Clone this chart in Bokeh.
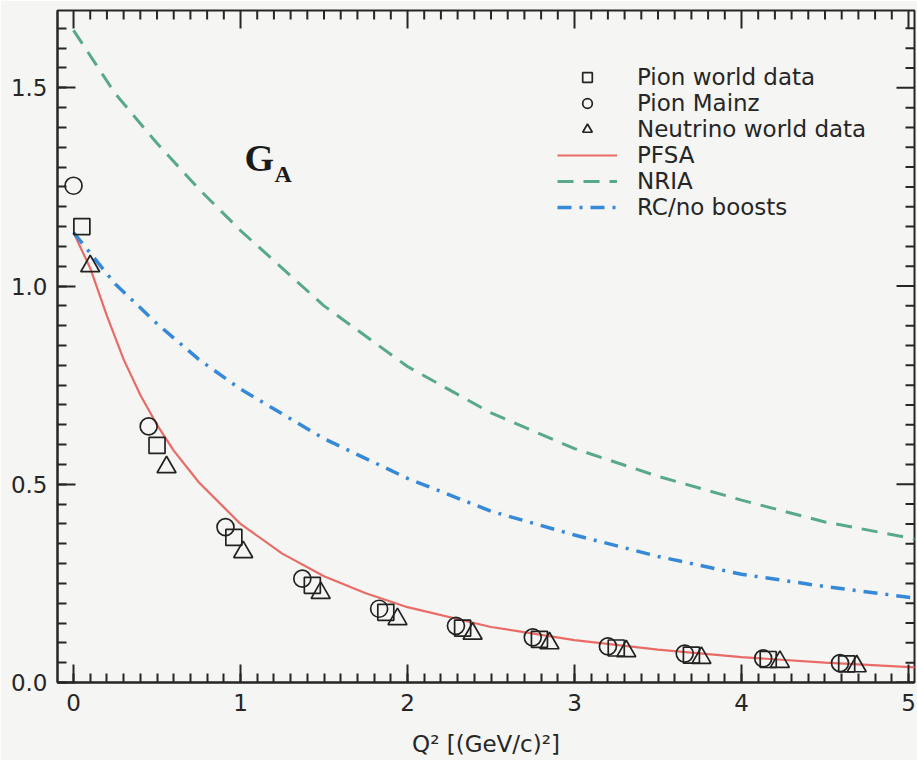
import numpy as np
from bokeh.plotting import figure
from bokeh.models import (FixedTicker, Legend, LegendItem, Label,
                          Range1d, PrintfTickFormatter)
from bokeh.embed import file_html
from bokeh.resources import INLINE

# ---------------- data ----------------
x_ticks = [0, 1, 2, 3, 4, 5]
y_ticks = [0.0, 0.5, 1.0, 1.5]

pion_world_q2 = [0.05, 0.50, 0.96, 1.43, 1.87, 2.33, 2.79, 3.25, 3.70, 4.16, 4.63]
pion_world_ga = [1.150, 0.598, 0.366, 0.245, 0.177, 0.137, 0.109, 0.087, 0.069, 0.058, 0.047]

pion_mainz_q2 = [0.00, 0.45, 0.91, 1.37, 1.83, 2.29, 2.75, 3.20, 3.66, 4.13, 4.59]
pion_mainz_ga = [1.253, 0.646, 0.392, 0.262, 0.186, 0.143, 0.114, 0.091, 0.073, 0.061, 0.049]

neutrino_q2 = [0.10, 0.557, 1.016, 1.48, 1.94, 2.39, 2.85, 3.31, 3.76, 4.23, 4.69]
neutrino_ga = [1.050, 0.543, 0.329, 0.226, 0.160, 0.123, 0.099, 0.079, 0.062, 0.052, 0.041]

pfsa_q2 = [0.0, 0.1, 0.2, 0.3, 0.4, 0.5, 0.6, 0.75, 1.0, 1.25, 1.5, 1.75, 2.0,
           2.5, 3.0, 3.5, 4.0, 4.5, 5.04]
pfsa_ga = [1.135, 1.045, 0.925, 0.815, 0.725, 0.650, 0.585, 0.505, 0.400, 0.325,
           0.268, 0.225, 0.190, 0.140, 0.107, 0.083, 0.064, 0.050, 0.038]

nria_q2 = [0.0, 0.25, 0.5, 0.75, 1.0, 1.5, 2.0, 2.5, 3.0, 3.5, 4.0, 4.5, 5.04]
nria_ga = [1.645, 1.485, 1.360, 1.245, 1.140, 0.950, 0.797, 0.680, 0.590, 0.520,
           0.460, 0.405, 0.362]

rc_q2 = [0.0, 0.25, 0.5, 0.75, 1.0, 1.5, 2.0, 2.5, 3.0, 3.5, 4.0, 4.5, 5.04]
rc_ga = [1.135, 1.005, 0.905, 0.815, 0.740, 0.615, 0.515, 0.432, 0.372, 0.318,
         0.273, 0.242, 0.213]

# ---------------- styling ----------------
BG = "#f5f5f3"
INK = "#262626"
FONT = "DejaVu Sans"

X0, X1 = -0.096, 5.036
Y0, Y1 = 0.0, 1.695
FRAME_W, FRAME_H = 857, 672

p = figure(width=917, height=760,
           x_range=Range1d(X0, X1), y_range=Range1d(Y0, Y1),
           output_backend="svg", toolbar_location=None,
           min_border_left=57, min_border_right=3, min_border_top=10,
           min_border_bottom=78,
           background_fill_color=BG, border_fill_color=BG)
p.outline_line_color = INK
p.outline_line_width = 2
p.xgrid.visible = False
p.ygrid.visible = False

x_minor = [round(v, 2) for v in np.arange(0, 5.01, 0.1)]
y_minor = [round(v, 3) for v in np.arange(0, 1.70, 0.05)]

MAJ, MIN = 18, 9


def style(ax, ticks, minor):
    ax.ticker = FixedTicker(ticks=ticks, minor_ticks=minor)
    ax.major_tick_in = MAJ
    ax.major_tick_out = 0
    ax.minor_tick_in = MIN
    ax.minor_tick_out = 0
    ax.axis_line_width = 2
    ax.axis_line_color = INK
    ax.major_tick_line_color = INK
    ax.minor_tick_line_color = INK
    ax.major_tick_line_width = 2
    ax.minor_tick_line_width = 2
    ax.major_label_text_font = FONT
    ax.major_label_text_font_size = "23px"
    ax.major_label_text_color = INK


style(p.xaxis[0], x_ticks, x_minor)
style(p.yaxis[0], y_ticks, y_minor)
p.xaxis[0].major_label_standoff = 11
p.yaxis[0].major_label_standoff = 10
p.yaxis[0].formatter = PrintfTickFormatter(format="%.1f")
p.xaxis[0].axis_label = "Q² [(GeV/c)²]"
p.xaxis[0].axis_label_text_font = FONT
p.xaxis[0].axis_label_text_font_size = "23px"
p.xaxis[0].axis_label_text_font_style = "normal"
p.xaxis[0].axis_label_text_color = INK
p.xaxis[0].axis_label_standoff = 17

# mirrored ticks on the top and right frame edges (no labels)
dy_per_px = (Y1 - Y0) / FRAME_H
dx_per_px = (X1 - X0) / FRAME_W
for ticks, L in ((x_ticks, MAJ), ([t for t in x_minor if t not in x_ticks], MIN)):
    p.segment(x0=ticks, y0=[Y1] * len(ticks), x1=ticks,
              y1=[Y1 - L * dy_per_px] * len(ticks), line_color=INK, line_width=2)
for ticks, L in ((y_ticks, MAJ), ([t for t in y_minor if t not in y_ticks], MIN)):
    p.segment(x0=[X1] * len(ticks), y0=ticks, x1=[X1 - L * dx_per_px] * len(ticks),
              y1=ticks, line_color=INK, line_width=2)

# ---------------- curves ----------------
r_pfsa = p.line(pfsa_q2, pfsa_ga, line_color="#ea6b66", line_width=2.2)
r_nria = p.line(nria_q2, nria_ga, line_color="#58a88c", line_width=3,
                line_dash="16 10")
r_rc = p.line(rc_q2, rc_ga, line_color="#3589d8", line_width=3.5,
              line_dash="14 8 3 8")

# ---------------- points ----------------
mk = dict(fill_color=None, line_color="#222222", line_width=1.7)
r_sq = p.scatter(pion_world_q2, pion_world_ga, marker="square", size=16, **mk)
r_ci = p.scatter(pion_mainz_q2, pion_mainz_ga, marker="circle", size=17, **mk)
r_tr = p.scatter(neutrino_q2, neutrino_ga, marker="triangle", size=19, **mk)

legend = Legend(items=[
    LegendItem(label="Pion world data", renderers=[r_sq]),
    LegendItem(label="Pion Mainz", renderers=[r_ci]),
    LegendItem(label="Neutrino world data", renderers=[r_tr]),
    LegendItem(label="PFSA", renderers=[r_pfsa]),
    LegendItem(label="NRIA", renderers=[r_nria]),
    LegendItem(label="RC/no boosts", renderers=[r_rc]),
], location=(500, 462), glyph_width=60, glyph_height=24, label_height=24,
    spacing=0, padding=0, margin=0, label_standoff=20,
    background_fill_alpha=0, border_line_alpha=0,
    label_text_font=FONT, label_text_font_size="23px",
    label_text_line_height=0.9,
    label_text_color=INK)
p.add_layout(legend)

p.add_layout(Label(x=1.024, y=1.322, text="G", text_font="Liberation Serif",
                   text_font_style="bold", text_font_size="38px",
                   text_baseline="alphabetic", text_color="#1a1a1a"))
p.add_layout(Label(x=1.204, y=1.282, text="A", text_font="Liberation Serif",
                   text_font_style="bold", text_font_size="24px",
                   text_baseline="alphabetic", text_color="#1a1a1a"))

open("out.html", "w").write(file_html(p, INLINE))
